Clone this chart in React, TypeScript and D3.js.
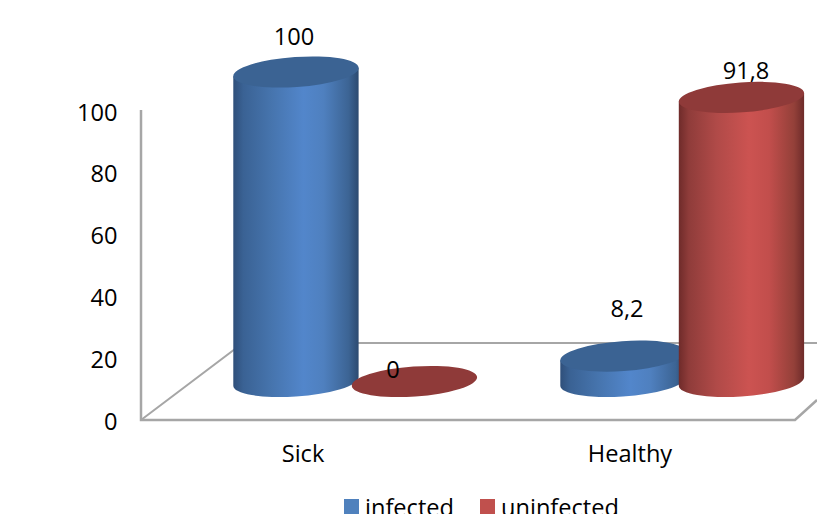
import React from "react";
import * as d3 from "d3";

const categories = ["Sick", "Healthy"];
const seriesNames = ["infected", "uninfected"];
const infected = [100, 8.2];
const uninfected = [0, 91.8];
const valueLabels = [["100", "8,2"], ["0", "91,8"]];
const tickValues = [0, 20, 40, 60, 80, 100];

const W = 817;
const H = 514;
const FONT = "'Open Sans', sans-serif";
const FONT_SIZE = 23.6;
const TEXT = "#000000";
const GRID = "#a6a6a6";

// Plot frame and the oblique floor
const frame = { left: 141, right: 795, bottom: 420, top: 111, backY: 343 };
const depth = { dx: 50.7, floorY: 381.5, topY: 72 };

// Cylinder ellipse shape
const RX = 62.8;
const RY = 15;
const TILT = -4;

const palette = [
  { id: "cylBlue", top: "#3b6393", legend: "#4f81bd", stops: ["#2f4f7a", "#3a6294", "#4674ad", "#5286cb", "#4f80bf", "#3c6494", "#2c4a70"] },
  { id: "cylRed", top: "#8f3a39", legend: "#c0504d", stops: ["#6f2b2a", "#8f3c3a", "#b04a48", "#cc5351", "#c24e4c", "#934039", "#6e2b2a"] },
];
const stopOffsets = [0, 0.08, 0.3, 0.56, 0.72, 0.92, 1];

const xGroup = d3.scaleBand<string>().domain(categories).range([frame.left, frame.right]);
const xSeries = d3.scaleBand<string>().domain(seriesNames).range([-118.5, 118.5]);
const yAxis = d3.scaleLinear().domain([0, 100]).range([frame.bottom, frame.top]);
const yBar = d3.scaleLinear().domain([0, 100]).range([depth.floorY, depth.topY]);

// Offset from an ellipse's centre to its leftmost/rightmost rim point
const rad = (TILT * Math.PI) / 180;
const halfW = Math.sqrt(RX * RX * Math.cos(rad) ** 2 + RY * RY * Math.sin(rad) ** 2);
const rimDy = ((RX * RX - RY * RY) * Math.sin(rad) * Math.cos(rad)) / halfW;

function Cylinder({ cx, value, s }: { cx: number; value: number; s: number }) {
  const yTop = yBar(value);
  const yBase = yBar(0);
  const p = palette[s];
  const body =
    `M${cx - halfW},${yTop - rimDy} L${cx - halfW},${yBase - rimDy} ` +
    `A${RX},${RY} ${TILT} 1 0 ${cx + halfW},${yBase + rimDy} L${cx + halfW},${yTop + rimDy} Z`;
  return (
    <g>
      {value > 0 && <path d={body} fill={`url(#${p.id})`} />}
      <ellipse cx={cx} cy={yTop} rx={RX} ry={RY} fill={p.top} transform={`rotate(${TILT} ${cx} ${yTop})`} />
    </g>
  );
}

const labelSpots = [
  [{ x: 294, y: 45 }, { x: 627, y: 317 }],
  [{ x: 393, y: 378 }, { x: 746, y: 79 }],
];

export default function App() {
  const order = [
    { s: 0, c: 0, v: infected[0] },
    { s: 1, c: 0, v: uninfected[0] },
    { s: 0, c: 1, v: infected[1] },
    { s: 1, c: 1, v: uninfected[1] },
  ];
  const centre = (c: number, s: number) =>
    xGroup(categories[c])! + xGroup.bandwidth() / 2 + depth.dx + xSeries(seriesNames[s])! + xSeries.bandwidth() / 2;

  return (
    <svg width={W} height={H} viewBox={`0 0 ${W} ${H}`} style={{ position: "absolute", left: 0, top: 0, display: "block" }}>
      <defs>
        {palette.map((p) => (
          <linearGradient key={p.id} id={p.id} x1="0" x2="1" y1="0" y2="0">
            {p.stops.map((c, i) => (
              <stop key={i} offset={stopOffsets[i]} stopColor={c} />
            ))}
          </linearGradient>
        ))}
      </defs>
      <rect width={W} height={H} fill="#ffffff" />

      {/* Floor outline and value axis */}
      <g fill="none" stroke={GRID} strokeWidth={2}>
        <path d={`M${frame.left},${frame.bottom} L${frame.left + 102},${frame.backY} L${W},${frame.backY}`} />
        <path d={`M${frame.left},${frame.top - 1} L${frame.left},${frame.bottom} L${frame.right},${frame.bottom} L${W},${frame.bottom - 20}`} strokeWidth={2.5} />
      </g>

      {tickValues.map((t) => (
        <text key={t} x={117.5} y={yAxis(t) + 9.5} textAnchor="end" fontFamily={FONT} fontSize={FONT_SIZE} fill={TEXT}>
          {t}
        </text>
      ))}

      {categories.map((c) => (
        <text key={c} x={xGroup(c)! + xGroup.bandwidth() / 2 - 1.5} y={462} textAnchor="middle" fontFamily={FONT} fontSize={FONT_SIZE} fill={TEXT}>
          {c}
        </text>
      ))}

      {order.map((d) => (
        <Cylinder key={`${d.s}-${d.c}`} cx={centre(d.c, d.s)} value={d.v} s={d.s} />
      ))}

      {valueLabels.map((row, s) =>
        row.map((txt, c) => (
          <text key={`${s}-${c}`} x={labelSpots[s][c].x} y={labelSpots[s][c].y} textAnchor="middle" fontFamily={FONT} fontSize={FONT_SIZE} fill={TEXT}>
            {txt}
          </text>
        ))
      )}

      {/* Legend */}
      <rect x={344} y={499} width={15} height={15} fill={palette[0].legend} />
      <text x={365} y={516} fontFamily={FONT} fontSize={FONT_SIZE} fill={TEXT}>{seriesNames[0]}</text>
      <rect x={480} y={499} width={15} height={15} fill={palette[1].legend} />
      <text x={501} y={516} fontFamily={FONT} fontSize={FONT_SIZE} fill={TEXT}>{seriesNames[1]}</text>
    </svg>
  );
}
